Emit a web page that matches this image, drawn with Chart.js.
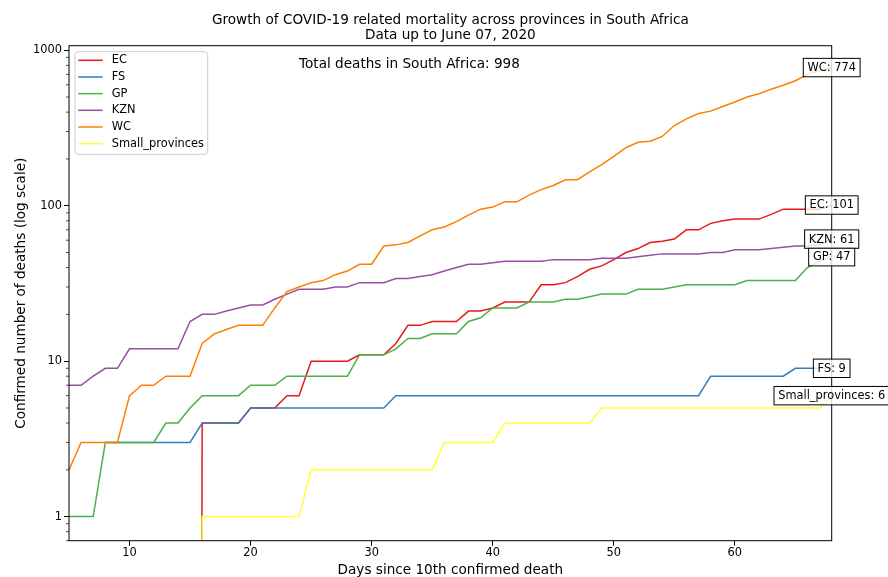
<!DOCTYPE html>
<html>
<head>
<meta charset="utf-8">
<script src="https://cdn.jsdelivr.net/npm/chart.js@4/dist/chart.umd.min.js"></script>
<style>
  html, body { margin: 0; padding: 0; background: #ffffff; }
  canvas { display: block; }
</style>
</head>
<body>
<canvas id="chart" width="888" height="577"></canvas>
<script>
// Days since the 10th confirmed death
const days = [5, 6, 7, 8, 9, 10, 11, 12, 13, 14, 15, 16, 17, 18, 19, 20, 21, 22, 23, 24,
  25, 26, 27, 28, 29, 30, 31, 32, 33, 34, 35, 36, 37, 38, 39, 40, 41, 42, 43, 44,
  45, 46, 47, 48, 49, 50, 51, 52, 53, 54, 55, 56, 57, 58, 59, 60, 61, 62, 63, 64,
  65, 66, 67, 68];

// Cumulative confirmed deaths per province (null = no record yet)
const EC = [0, 0, 0, 0, 0, 0, 0, 0, 0, 0, 0, 4, 4, 4, 4, 5, 5, 5, 6, 6,
  10, 10, 10, 10, 11, 11, 11, 13, 17, 17, 18, 18, 18, 21, 21, 22, 24, 24, 24, 31,
  31, 32, 35, 39, 41, 45, 50, 53, 58, 59, 61, 70, 70, 77, 80, 82, 82, 82, 88, 95,
  95, 95, 95, 101];
const FS = [null, null, null, 3, 3, 3, 3, 3, 3, 3, 3, 4, 4, 4, 4, 5, 5, 5, 5, 5,
  5, 5, 5, 5, 5, 5, 5, 6, 6, 6, 6, 6, 6, 6, 6, 6, 6, 6, 6, 6,
  6, 6, 6, 6, 6, 6, 6, 6, 6, 6, 6, 6, 6, 8, 8, 8, 8, 8, 8, 8,
  9, 9, 9, 9];
const GP = [1, 1, 1, 3, 3, 3, 3, 3, 4, 4, 5, 6, 6, 6, 6, 7, 7, 7, 8, 8,
  8, 8, 8, 8, 11, 11, 11, 12, 14, 14, 15, 15, 15, 18, 19, 22, 22, 22, 24, 24,
  24, 25, 25, 26, 27, 27, 27, 29, 29, 29, 30, 31, 31, 31, 31, 31, 33, 33, 33, 33,
  33, 40, 44, 47];
const KZN = [7, 7, 8, 9, 9, 12, 12, 12, 12, 12, 18, 20, 20, 21, 22, 23, 23, 25, 27, 29,
  29, 29, 30, 30, 32, 32, 32, 34, 34, 35, 36, 38, 40, 42, 42, 43, 44, 44, 44, 44,
  45, 45, 45, 45, 46, 46, 46, 47, 48, 49, 49, 49, 49, 50, 50, 52, 52, 52, 53, 54,
  55, 55, 56, 61];
const WC = [2, 3, 3, 3, 3, 6, 7, 7, 8, 8, 8, 13, 15, 16, 17, 17, 17, 22, 28, 30,
  32, 33, 36, 38, 42, 42, 55, 56, 58, 64, 70, 73, 79, 87, 95, 98, 106, 106, 117, 127,
  135, 147, 147, 165, 184, 208, 236, 256, 260, 279, 328, 362, 392, 406, 435, 465, 500, 525, 562, 595,
  637, 700, 740, 774];
const Small_provinces = [0, 0, 0, 0, 0, 0, 0, 0, 0, 0, 0, 1, 1, 1, 1, 1, 1, 1, 1, 1,
  2, 2, 2, 2, 2, 2, 2, 2, 2, 2, 2, 3, 3, 3, 3, 3, 4, 4, 4, 4,
  4, 4, 4, 4, 5, 5, 5, 5, 5, 5, 5, 5, 5, 5, 5, 5, 5, 5, 5, 5,
  5, 5, 5, 6];

const seriesNames = ['EC', 'FS', 'GP', 'KZN', 'WC', 'Small_provinces'];
const seriesValues = [EC, FS, GP, KZN, WC, Small_provinces];
const seriesColors = ['#e41a1c', '#377eb8', '#4daf4a', '#984ea3', '#ff7f00', '#ffff33'];

const xTickValues = [10, 20, 30, 40, 50, 60];
const yTickValues = [1, 10, 100, 1000];

const titleLines = ['Growth of COVID-19 related mortality across provinces in South Africa',
  'Data up to June 07, 2020'];
const xTitle = 'Days since 10th confirmed death';
const yTitle = 'Confirmed number of deaths (log scale)';

// Zero counts sit far below the log axis, so their segments drop straight out of view
const LOG_FLOOR = 1e-30;

const FONT = '"DejaVu Sans", "Liberation Sans", sans-serif';
const BIG = 13.6;
const SMALL = 11.4;

const lastValue = arr => arr[arr.length - 1];
const totalDeaths = seriesValues.reduce((s, arr) => s + lastValue(arr), 0);

// later series are painted over earlier ones
const datasets = seriesNames.map((name, i) => ({
  label: name,
  order: -i,
  data: days.map((d, j) => {
    const v = seriesValues[i][j];
    return { x: d, y: v === null ? null : (v === 0 ? LOG_FLOOR : v) };
  }),
  borderColor: seriesColors[i],
  backgroundColor: seriesColors[i],
  borderWidth: 1.5,
  pointRadius: 0,
  tension: 0,
  fill: false,
  spanGaps: false
}));

function roundRect(ctx, x, y, w, h, r) {
  ctx.beginPath();
  ctx.moveTo(x + r, y);
  ctx.lineTo(x + w - r, y);
  ctx.arcTo(x + w, y, x + w, y + r, r);
  ctx.lineTo(x + w, y + h - r);
  ctx.arcTo(x + w, y + h, x + w - r, y + h, r);
  ctx.lineTo(x + r, y + h);
  ctx.arcTo(x, y + h, x, y + h - r, r);
  ctx.lineTo(x, y + r);
  ctx.arcTo(x, y, x + r, y, r);
  ctx.closePath();
}

const decorations = {
  id: 'decorations',
  afterDatasetsDraw(chart) {
    const { ctx, chartArea: a, scales } = chart;
    const xs = scales.x, ys = scales.y;
    ctx.save();

    // frame around the plotting area
    ctx.strokeStyle = '#000000';
    ctx.lineWidth = 1;
    ctx.strokeRect(a.left, a.top, a.right - a.left, a.bottom - a.top);

    // minor log ticks on the y axis
    ctx.lineWidth = 0.7;
    for (let e = -1; e <= 3; e++) {
      for (let k = 2; k <= 9; k++) {
        const v = k * Math.pow(10, e);
        if (v < ys.min || v > ys.max) continue;
        const py = ys.getPixelForValue(v);
        ctx.beginPath();
        ctx.moveTo(a.left - 3, py);
        ctx.lineTo(a.left, py);
        ctx.stroke();
      }
    }

    // total deaths note
    ctx.fillStyle = '#000000';
    ctx.font = `${BIG}px ${FONT}`;
    ctx.textAlign = 'left';
    ctx.textBaseline = 'alphabetic';
    ctx.fillText(`Total deaths in South Africa: ${totalDeaths}`, 299, 68);

    // legend
    const lx = a.left + 6, ly = a.top + 6, lw = 132.7, lh = 102.6;
    roundRect(ctx, lx, ly, lw, lh, 3);
    ctx.fillStyle = 'rgba(255,255,255,0.8)';
    ctx.fill();
    ctx.strokeStyle = '#cccccc';
    ctx.lineWidth = 1;
    ctx.stroke();
    ctx.font = `${SMALL}px ${FONT}`;
    ctx.textBaseline = 'middle';
    chart.data.datasets.forEach((ds, i) => {
      const ry = ly + 8.6 + i * 16.67;
      ctx.strokeStyle = ds.borderColor;
      ctx.lineWidth = 1.5;
      ctx.beginPath();
      ctx.moveTo(lx + 3.3, ry);
      ctx.lineTo(lx + 27.7, ry);
      ctx.stroke();
      ctx.fillStyle = '#000000';
      ctx.fillText(ds.label, lx + 36.7, ry);
    });

    // end-of-series value boxes
    ctx.font = `${SMALL}px ${FONT}`;
    ctx.textAlign = 'center';
    ctx.textBaseline = 'middle';
    seriesNames.forEach((name, i) => {
      const v = lastValue(seriesValues[i]);
      const px = xs.getPixelForValue(lastValue(days));
      const py = ys.getPixelForValue(v);
      const text = `${name}: ${v}`;
      const w = ctx.measureText(text).width + 8.4;
      const h = 18.4;
      ctx.fillStyle = 'rgba(255,255,255,0.8)';
      ctx.fillRect(px - w / 2, py - h / 2, w, h);
      ctx.strokeStyle = '#000000';
      ctx.lineWidth = 1;
      ctx.strokeRect(px - w / 2, py - h / 2, w, h);
      ctx.fillStyle = '#000000';
      ctx.fillText(text, px, py + 0.5);
    });

    ctx.restore();
  },
  afterDraw(chart) {
    const { ctx, chartArea: a } = chart;
    ctx.save();
    ctx.fillStyle = '#000000';
    ctx.font = `${BIG}px ${FONT}`;
    ctx.textAlign = 'center';
    ctx.textBaseline = 'alphabetic';
    const cx = (a.left + a.right) / 2;
    ctx.fillText(titleLines[0], cx, 24);
    ctx.fillText(titleLines[1], cx, 39);
    ctx.fillText(xTitle, cx, 574);
    ctx.translate(21, (a.top + a.bottom) / 2);
    ctx.rotate(-Math.PI / 2);
    ctx.textBaseline = 'middle';
    ctx.fillText(yTitle, 0, 0);
    ctx.restore();
  }
};

new Chart(document.getElementById('chart'), {
  type: 'line',
  data: { datasets },
  options: {
    responsive: false,
    devicePixelRatio: 1,
    animation: false,
    events: [],
    layout: { padding: { left: 0, right: 56.3, top: 45.7, bottom: 0 } },
    plugins: { legend: { display: false }, tooltip: { enabled: false }, title: { display: false } },
    scales: {
      x: {
        type: 'linear',
        min: 5,
        max: 68,
        afterBuildTicks: s => { s.ticks = xTickValues.map(v => ({ value: v })); },
        afterFit: s => { s.height = 36.3; },
        border: { display: false },
        grid: { drawOnChartArea: false, drawTicks: true, tickLength: 5, tickColor: '#000000', tickWidth: 1 },
        ticks: { autoSkip: false, maxRotation: 0, padding: 1, color: '#000000',
          font: { family: FONT, size: SMALL } }
      },
      y: {
        type: 'logarithmic',
        min: 0.718,
        max: 1070,
        afterBuildTicks: s => { s.ticks = yTickValues.map(v => ({ value: v })); },
        afterFit: s => { s.width = 69; },
        border: { display: false },
        grid: { drawOnChartArea: false, drawTicks: true, tickLength: 5, tickColor: '#000000', tickWidth: 1 },
        ticks: { autoSkip: false, padding: 2, color: '#000000',
          font: { family: FONT, size: SMALL },
          callback: v => String(v) }
      }
    }
  },
  plugins: [decorations]
});
</script>
</body>
</html>
